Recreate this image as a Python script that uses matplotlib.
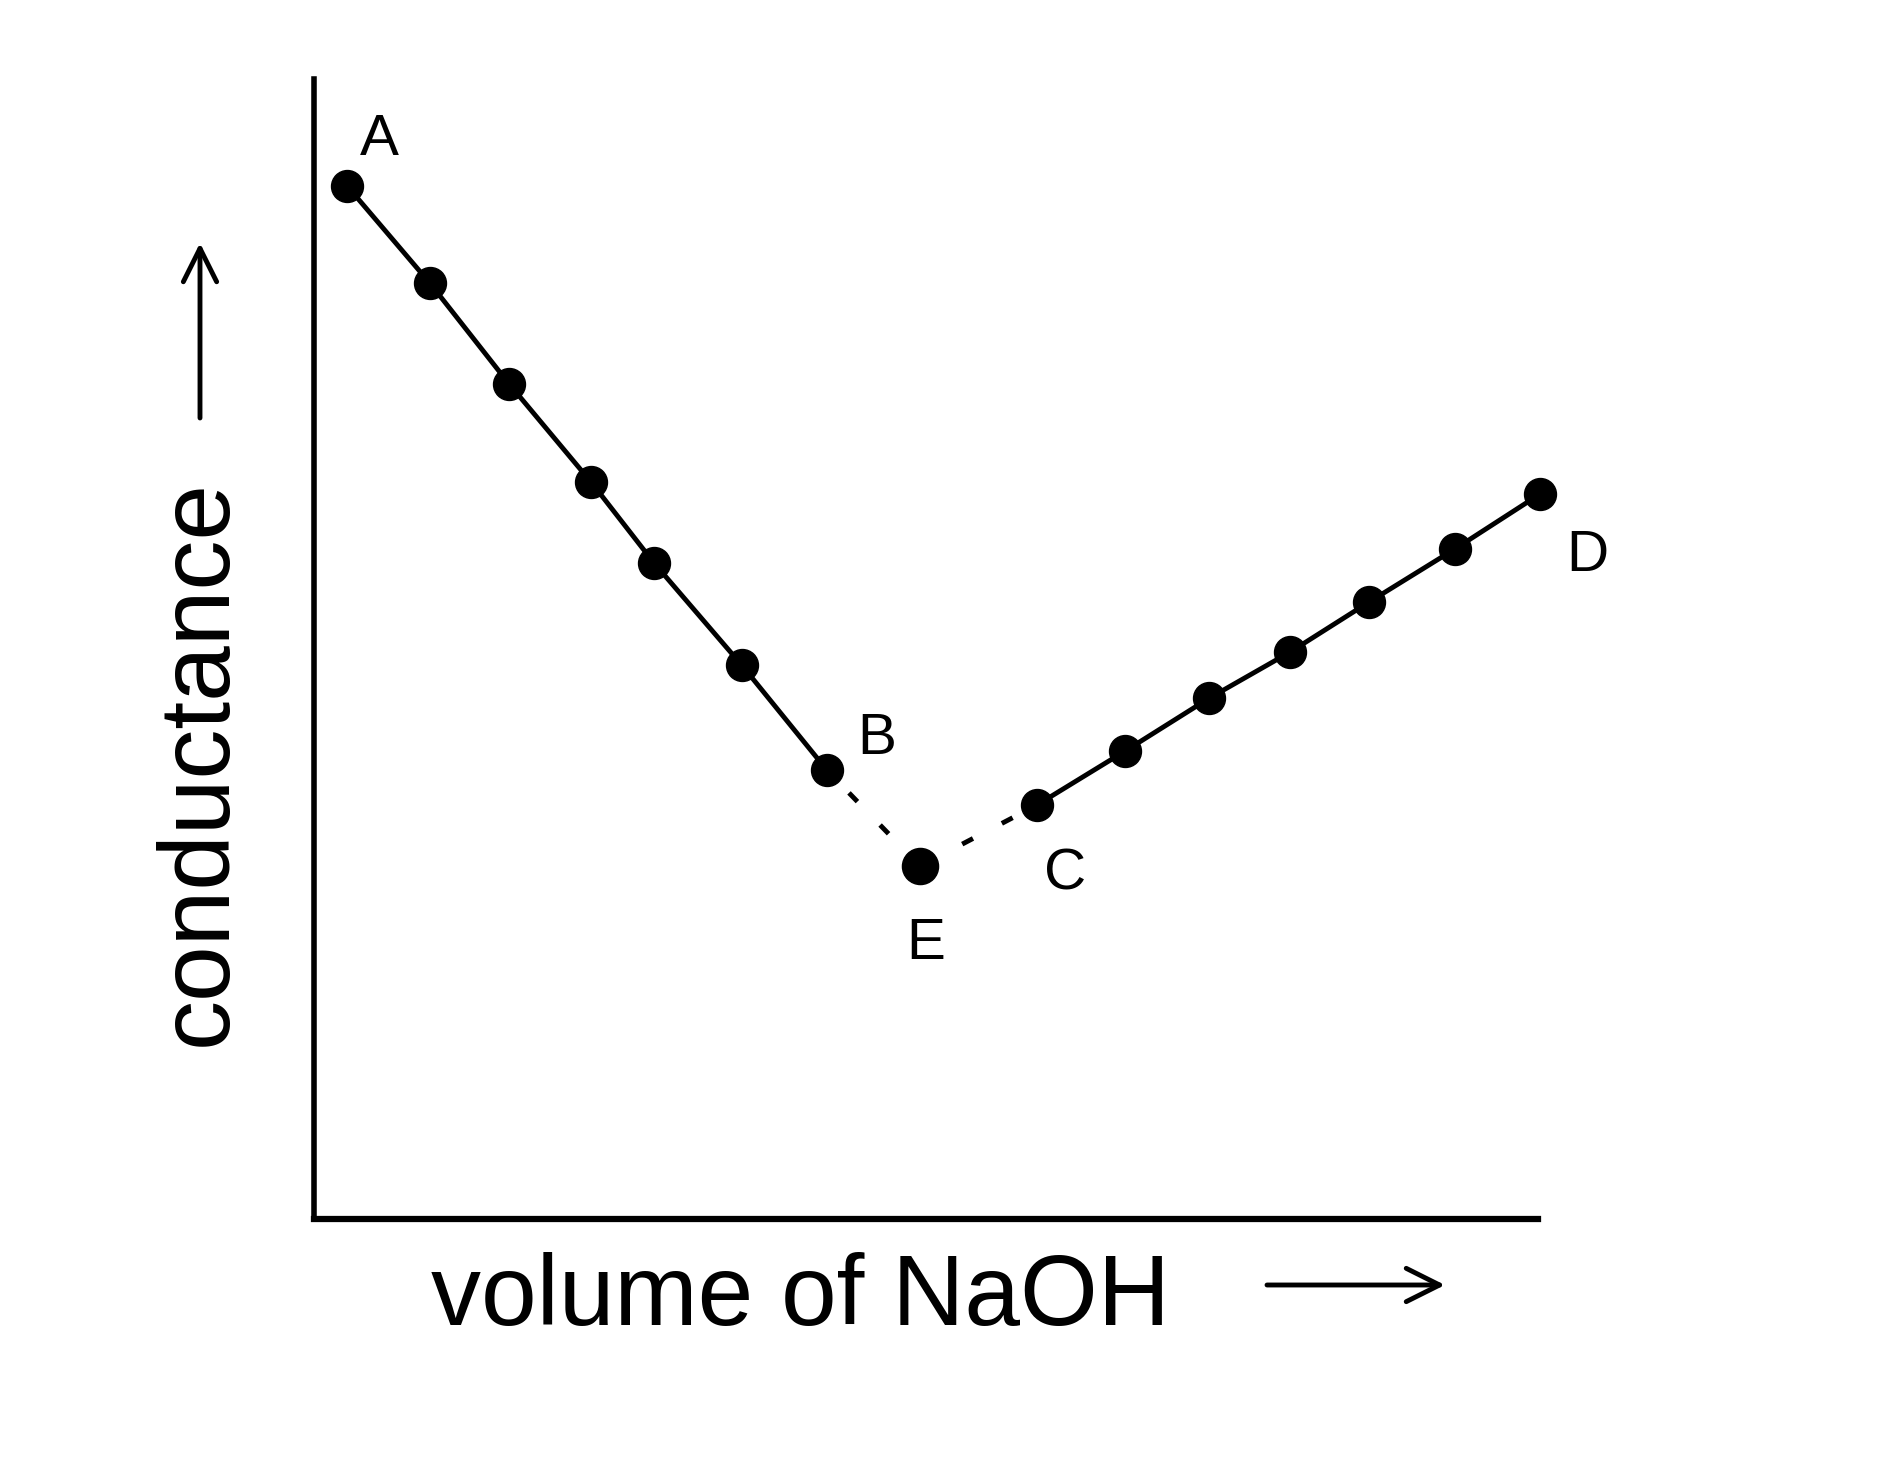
import numpy as np
import matplotlib.pyplot as plt

plt.rcParams['font.family'] = ['Liberation Sans', 'DejaVu Sans']

# (arbitrary units)
vol_acid = [0.55, 1.93, 3.25, 4.62, 5.67, 7.13, 8.55]       # A ... B
cond_acid = [17.22, 15.6, 13.92, 12.28, 10.93, 9.23, 7.48]
vol_base = [12.05, 13.52, 14.92, 16.27, 17.58, 19.02, 20.43]  # C ... D
cond_base = [6.9, 7.8, 8.68, 9.45, 10.28, 11.17, 12.08]
vol_end = 10.1   # E, end point
cond_end = 5.88

point_labels = ['A', 'B', 'E', 'C', 'D']

fig = plt.figure(figsize=(19.02, 14.74), dpi=100)
ax = fig.add_axes([314 / 1902, 1 - 1219 / 1474, (1538 - 314) / 1902, (1219 - 79) / 1474])
ax.set_xlim(0, 20.4)
ax.set_ylim(0, 19)
for s in ['top', 'right']:
    ax.spines[s].set_visible(False)
ax.spines['left'].set_linewidth(4)
ax.spines['bottom'].set_linewidth(4.5)
ax.set_xticks([])
ax.set_yticks([])

# the two measured branches
ax.plot(vol_acid, cond_acid, color='black', lw=3.5, marker='o', ms=23, zorder=3, clip_on=False)
ax.plot(vol_base, cond_base, color='black', lw=3.5, marker='o', ms=23, zorder=3, clip_on=False)

# extrapolated parts meeting at E
ax.plot([vol_acid[-1], vol_end], [cond_acid[-1], cond_end], color='black', lw=3.5,
        linestyle=(2.7, (2.5, 6.7)), zorder=2)
ax.plot([vol_end, vol_base[0]], [cond_end, cond_base[0]], color='black', lw=3.5,
        linestyle=(8.6, (2.5, 6.7)), zorder=2)
ax.plot([vol_end], [cond_end], 'o', color='black', ms=26, zorder=3)

# letters next to the points
label_xy = [(vol_acid[0], cond_acid[0]), (vol_acid[-1], cond_acid[-1]), (vol_end, cond_end),
            (vol_base[0], cond_base[0]), (vol_base[-1], cond_base[-1])]
offsets = [(23, 22.5), (36, 11.5), (4, -66.5), (20, -60.5), (34, -55.5)]
for lab, xy, off in zip(point_labels, label_xy, offsets):
    ax.annotate(lab, xy=xy, xytext=off, textcoords='offset points',
                ha='center', va='baseline', fontsize=42, annotation_clip=False)

# axis titles with arrows
fig.text(431 / 1902, 1 - 1325 / 1474, 'volume of NaOH', fontsize=72, ha='left', va='baseline')
fig.text(226 / 1902, 1 - 763 / 1474, 'conductance', fontsize=72, rotation=90,
         rotation_mode='anchor', ha='center', va='baseline')

arrow = dict(arrowstyle='->,head_length=1.2,head_width=0.6', lw=3.5, color='black',
             mutation_scale=20, shrinkA=0, shrinkB=0)
ax.annotate('', xy=(1445, 1474 - 1285), xytext=(1267, 1474 - 1285),
            xycoords='figure pixels', textcoords='figure pixels', arrowprops=arrow)
ax.annotate('', xy=(200, 1474 - 243), xytext=(200, 1474 - 418),
            xycoords='figure pixels', textcoords='figure pixels', arrowprops=arrow)

fig.savefig('out.png', dpi=100, facecolor='white')
